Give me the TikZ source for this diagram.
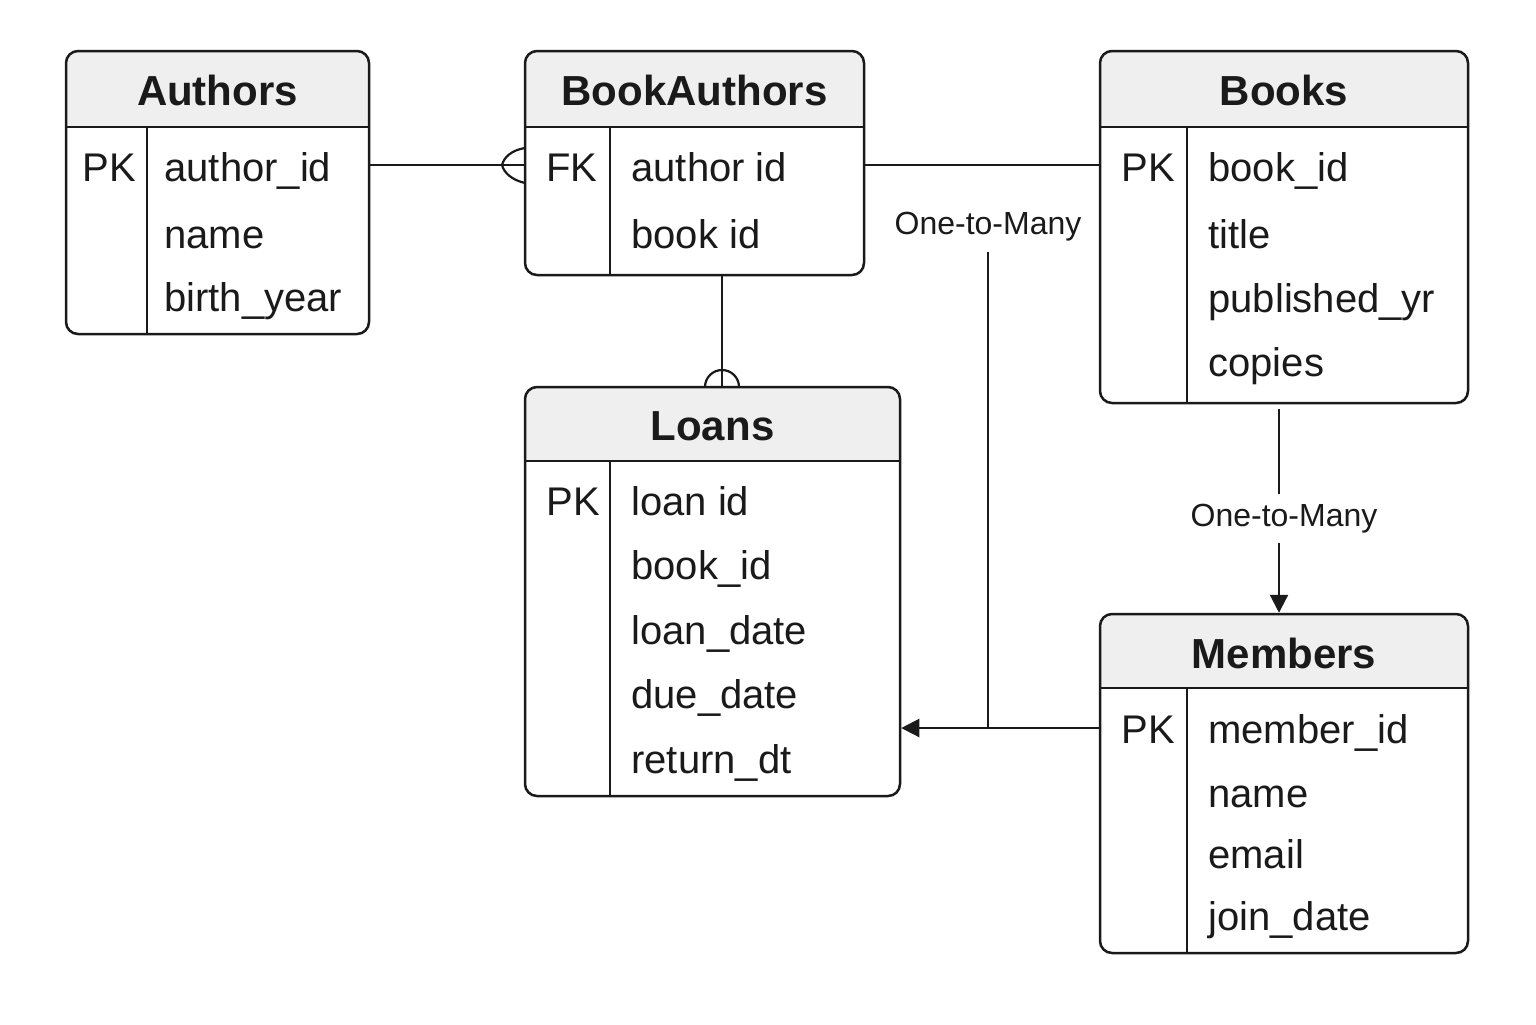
\documentclass[tikz,border=0pt]{standalone}
\usepackage{fontspec}
\setmainfont{Liberation Sans}
\usetikzlibrary{fit,arrows.meta}
\definecolor{headfill}{HTML}{EFEFEF}
\definecolor{ink}{HTML}{1A1A1A}
\tikzset{
  tbl/.style={draw=ink, line width=1.25pt, rounded corners=6pt, inner sep=0pt},
  tline/.style={draw=ink, line width=1.2pt},
  ttl/.style={anchor=base, inner sep=0pt, font=\fontsize{21pt}{24pt}\selectfont\bfseries, text=ink},
  fld/.style={anchor=base west, inner sep=0pt, font=\fontsize{20pt}{24pt}\selectfont, text=ink},
  conn/.style={draw=ink, line width=1.1pt},
  arr/.style={conn, -{Triangle[length=9pt,width=9pt]}},
  lbl/.style={inner sep=2pt, font=\fontsize{16pt}{19pt}\selectfont, text=ink},
}
% #1 name, #2 x1, #3 y1, #4 x2, #5 y2, #6 header bottom, #7 divider x, #8 title, #9 title baseline
\newcommand\ertable[9]{%
  \begin{scope}
    \clip[rounded corners=6pt] (#2,#3) rectangle (#4,#5);
    \fill[headfill] (#2,#3) rectangle (#4,#6);
  \end{scope}
  \node[tbl, fit={(#2,#3)(#4,#5)}] (#1) {};
  \draw[tline] (#2,#6) -- (#4,#6);
  \draw[tline] (#7,#6) -- (#7,#5);
  \node[ttl] (#1-title) at ({(#2+#4)/2},#9) {#8};
}
\begin{document}
\begin{tikzpicture}[x=0.5pt,y=-0.5pt]
\useasboundingbox[fill=white] (0,0) rectangle (1536,1024);

% Authors
\ertable{authors}{66}{51}{369}{334}{127}{147}{Authors}{105}
\node[fld] (authors-k1) at (82,181) {PK};
\node[fld] (authors-f1) at (164,181) {author\_id};
\node[fld] (authors-f2) at (164,248) {name};
\node[fld] (authors-f3) at (164,311) {birth\_year};

% BookAuthors
\ertable{bookauthors}{525}{51}{864}{275}{127}{610}{BookAuthors}{105}
\node[fld] (bookauthors-k1) at (546,181) {FK};
\node[fld] (bookauthors-f1) at (631,181) {author id};
\node[fld] (bookauthors-f2) at (631,248) {book id};

% Books
\ertable{books}{1100}{51}{1468}{403}{127}{1187}{Books}{105}
\node[fld] (books-k1) at (1121,181) {PK};
\node[fld] (books-f1) at (1208,181) {book\_id};
\node[fld] (books-f2) at (1208,248) {title};
\node[fld] (books-f3) at (1208,312) {published\_yr};
\node[fld] (books-f4) at (1208,376) {copies};

% Loans
\ertable{loans}{525}{387}{900}{796}{461}{610}{Loans}{440}
\node[fld] (loans-k1) at (546,515) {PK};
\node[fld] (loans-f1) at (631,515) {loan id};
\node[fld] (loans-f2) at (631,579) {book\_id};
\node[fld] (loans-f3) at (631,644) {loan\_date};
\node[fld] (loans-f4) at (631,708) {due\_date};
\node[fld] (loans-f5) at (631,773) {return\_dt};

% Members
\ertable{members}{1100}{614}{1468}{953}{688}{1187}{Members}{668}
\node[fld] (members-k1) at (1121,743) {PK};
\node[fld] (members-f1) at (1208,743) {member\_id};
\node[fld] (members-f2) at (1208,807) {name};
\node[fld] (members-f3) at (1208,868) {email};
\node[fld] (members-f4) at (1208,930) {join\_date};

% helper coordinates
\coordinate (rowy) at (0,165);
\coordinate (bax) at (722,0);
\coordinate (bmx) at (1279,0);
\coordinate (jn) at (988,728);

% Authors -- BookAuthors (crow's foot)
\draw[conn] (authors.east |- rowy) -- (bookauthors.west |- rowy);
\draw[conn] (525,148) .. controls (512,150) and (504,157) .. (502,165)
            .. controls (504,173) and (512,180) .. (525,183);

% BookAuthors -- Books
\draw[conn] (bookauthors.east |- rowy) -- (books.west |- rowy);

% BookAuthors -- Loans
\draw[conn] (bookauthors.south -| bax) -- (loans.north -| bax);
\draw[conn] (705,387) .. controls (705,377.6) and (712.6,370) .. (722,370)
            .. controls (731.4,370) and (739,377.6) .. (739,387);

% Members -> Loans with label
\node[lbl] (lbl1) at (988,227) {One-to-Many};
\draw[conn] ([yshift=-3pt]lbl1.south) -- (jn);
\draw[arr] (members.west |- jn) -- (loans.east |- jn);

% Books -> Members
\draw[arr, shorten <=2.5pt] (books.south -| bmx) -- node[lbl, fill=white, pos=0.55, xshift=2.5pt, inner ysep=5pt] (lbl2) {One-to-Many} (members.north -| bmx);
\end{tikzpicture}
\end{document}
